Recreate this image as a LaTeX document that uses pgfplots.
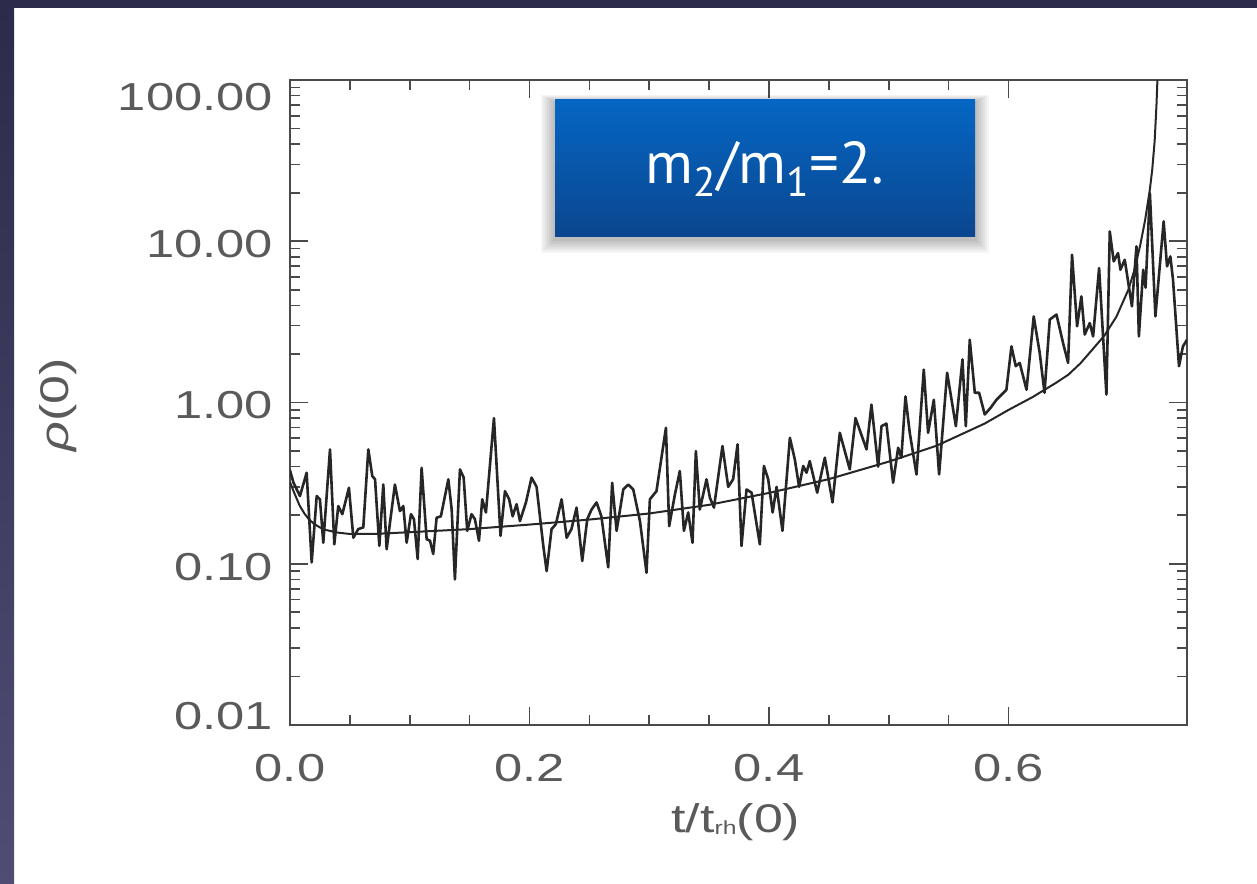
\documentclass[border=0pt]{standalone}
\usepackage{fontspec}
\usepackage{pgfplots}
\pgfplotsset{compat=1.18}
\setmainfont{Liberation Sans}
\newfontfamily\tickfont[FakeStretch=1.3]{Liberation Sans}
\newfontfamily\boxfont{PT Sans}
\definecolor{frame}{HTML}{2C2B4C}
\definecolor{frameb}{HTML}{4E4D74}
\definecolor{boxtop}{HTML}{0566C3}
\definecolor{boxbot}{HTML}{0B468F}
\definecolor{axgray}{HTML}{4A4A4A}
\definecolor{lblgray}{HTML}{5A5A5A}

\begin{document}
\begin{tikzpicture}
% slide background and dark frame
\fill[white] (0,0) rectangle (628.5pt,441.5pt);
\fill[frame] (0,437.5pt) rectangle (628.5pt,441.5pt);
\shade[top color=frame, bottom color=frameb] (0,0) rectangle (7pt,437.5pt);

\begin{axis}[
    at={(145pt,79pt)}, anchor=south west,
    width=448.5pt, height=322.5pt, scale only axis,
    xmin=0, xmax=0.749,
    ymode=log, ymin=0.01, ymax=100,
    xtick={0,0.2,0.4,0.6}, xticklabels={0.0,0.2,0.4,0.6},
    minor x tick num=3,
    ytick={0.01,0.1,1,10,100},
    yticklabels={\raisebox{6pt}[\height][\depth]{0.01},0.10,1.00,10.00,\raisebox{-7pt}[\height][\depth]{100.00}},
    tick align=inside,
    major tick length=9pt, minor tick length=5pt,
    axis line style={axgray, line width=0.9pt},
    tick style={axgray, line width=0.8pt},
    ticklabel style={font=\tickfont\fontsize{19.5}{20}\selectfont, text=lblgray},
    yticklabel style={anchor=east, xshift=-5pt, yshift=-1.5pt},
    xticklabel style={yshift=-11pt},
    label style={font=\tickfont\fontsize{20}{20}\selectfont, text=lblgray},
    xlabel={t/t\raisebox{-1pt}{\fontsize{9.5}{10}\selectfont rh}(0)},
    xlabel style={at={(axis description cs:0.497,-0.150)}, anchor=center},
    ylabel={\textit{ρ}(0)},
    ylabel style={at={(axis description cs:-0.258,0.496)}, anchor=center},
]

% simulation (noisy)
\addplot[draw=black!85, line width=1.3pt, line join=round, mark=none] table {
0.0000 0.38
0.0028 0.32
0.0083 0.263
0.0139 0.367
0.0181 0.102
0.0223 0.263
0.0250 0.251
0.0278 0.135
0.0334 0.512
0.0370 0.132
0.0403 0.228
0.0437 0.203
0.0492 0.296
0.0529 0.145
0.0570 0.164
0.0612 0.168
0.0654 0.512
0.0687 0.350
0.0710 0.334
0.0746 0.129
0.0779 0.310
0.0807 0.123
0.0835 0.180
0.0876 0.310
0.0918 0.212
0.0946 0.228
0.0974 0.135
0.1010 0.203
0.1035 0.189
0.1066 0.107
0.1099 0.394
0.1141 0.142
0.1169 0.139
0.1196 0.115
0.1224 0.193
0.1260 0.197
0.1322 0.334
0.1350 0.217
0.1377 0.080
0.1419 0.385
0.1450 0.343
0.1480 0.160
0.1516 0.203
0.1544 0.189
0.1578 0.139
0.1605 0.251
0.1636 0.208
0.1703 0.800
0.1758 0.149
0.1795 0.282
0.1830 0.251
0.1859 0.197
0.1892 0.234
0.1920 0.184
0.1970 0.240
0.2017 0.342
0.2059 0.300
0.2115 0.129
0.2143 0.090
0.2184 0.164
0.2220 0.176
0.2268 0.251
0.2310 0.145
0.2350 0.164
0.2393 0.223
0.2440 0.104
0.2482 0.189
0.2518 0.217
0.2560 0.240
0.2600 0.197
0.2657 0.095
0.2690 0.318
0.2727 0.160
0.2783 0.289
0.2825 0.310
0.2866 0.289
0.2922 0.184
0.2977 0.088
0.3005 0.251
0.3060 0.282
0.3139 0.697
0.3166 0.171
0.3214 0.269
0.3255 0.376
0.3289 0.160
0.3325 0.208
0.3361 0.135
0.3389 0.500
0.3422 0.217
0.3478 0.334
0.3506 0.257
0.3540 0.223
0.3611 0.537
0.3659 0.300
0.3700 0.334
0.3737 0.550
0.3770 0.129
0.3812 0.289
0.3854 0.276
0.3923 0.132
0.3957 0.404
0.3993 0.334
0.4030 0.208
0.4063 0.300
0.4112 0.160
0.4174 0.604
0.4215 0.444
0.4251 0.300
0.4285 0.404
0.4313 0.367
0.4340 0.433
0.4402 0.276
0.4466 0.455
0.4530 0.240
0.4591 0.649
0.4674 0.385
0.4722 0.800
0.4814 0.512
0.4855 0.970
0.4911 0.400
0.4939 0.713
0.4980 0.740
0.5036 0.318
0.5078 0.524
0.5105 0.455
0.5139 1.090
0.5175 0.649
0.5231 0.358
0.5292 1.600
0.5328 0.649
0.5376 1.040
0.5420 0.358
0.5487 1.530
0.5560 0.713
0.5615 1.850
0.5643 0.713
0.5676 2.450
0.5718 1.150
0.5754 1.150
0.5801 0.843
0.5850 0.927
0.5899 1.040
0.5982 1.200
0.6024 2.230
0.6060 1.680
0.6093 1.760
0.6150 1.200
0.6210 3.420
0.6260 2.030
0.6300 1.150
0.6344 3.270
0.6400 3.510
0.6455 2.340
0.6497 1.760
0.6530 8.250
0.6572 2.970
0.6608 4.550
0.6636 2.640
0.6678 3.110
0.6706 2.570
0.6756 6.820
0.6817 1.120
0.6845 11.50
0.6878 7.500
0.6914 8.450
0.6934 6.660
0.6970 7.680
0.7030 3.950
0.7068 9.300
0.7088 2.570
0.7124 6.660
0.7144 5.160
0.7180 19.90
0.7226 3.420
0.7295 13.30
0.7323 6.990
0.7351 8.050
0.7373 5.780
0.7423 1.680
0.7456 2.230
0.7490 2.450
};

% model (smooth)
\addplot[draw=black!85, line width=1pt, mark=none] table {
0.000 0.32
0.004 0.27
0.008 0.23
0.012 0.205
0.016 0.188
0.020 0.177
0.025 0.168
0.030 0.162
0.040 0.156
0.050 0.153
0.070 0.153
0.100 0.157
0.150 0.164
0.200 0.175
0.250 0.188
0.300 0.205
0.350 0.232
0.400 0.275
0.450 0.335
0.500 0.43
0.540 0.54
0.580 0.74
0.600 0.90
0.620 1.08
0.640 1.33
0.650 1.49
0.660 1.75
0.670 2.13
0.680 2.6
0.690 3.4
0.700 5.0
0.705 6.6
0.710 9.5
0.714 13.5
0.718 21
0.720 28
0.722 42
0.7235 70
0.7245 110
};
\end{axis}

% label box with soft shadow
\foreach \s in {1,...,7}
  \fill[black, opacity=0.04] (277.5pt-\s pt,322pt-\s pt) rectangle (487.5pt+\s pt,390.5pt+0.5*\s pt);
\shade[top color=boxtop, bottom color=boxbot] (277.5pt,323pt) rectangle (487.5pt,391.5pt);
\node[text=white, font=\boxfont\fontsize{29.5}{30}\selectfont] at (382.5pt,357pt)
  {m\textsubscript{2}/m\textsubscript{1}=2.};
\end{tikzpicture}
\end{document}
